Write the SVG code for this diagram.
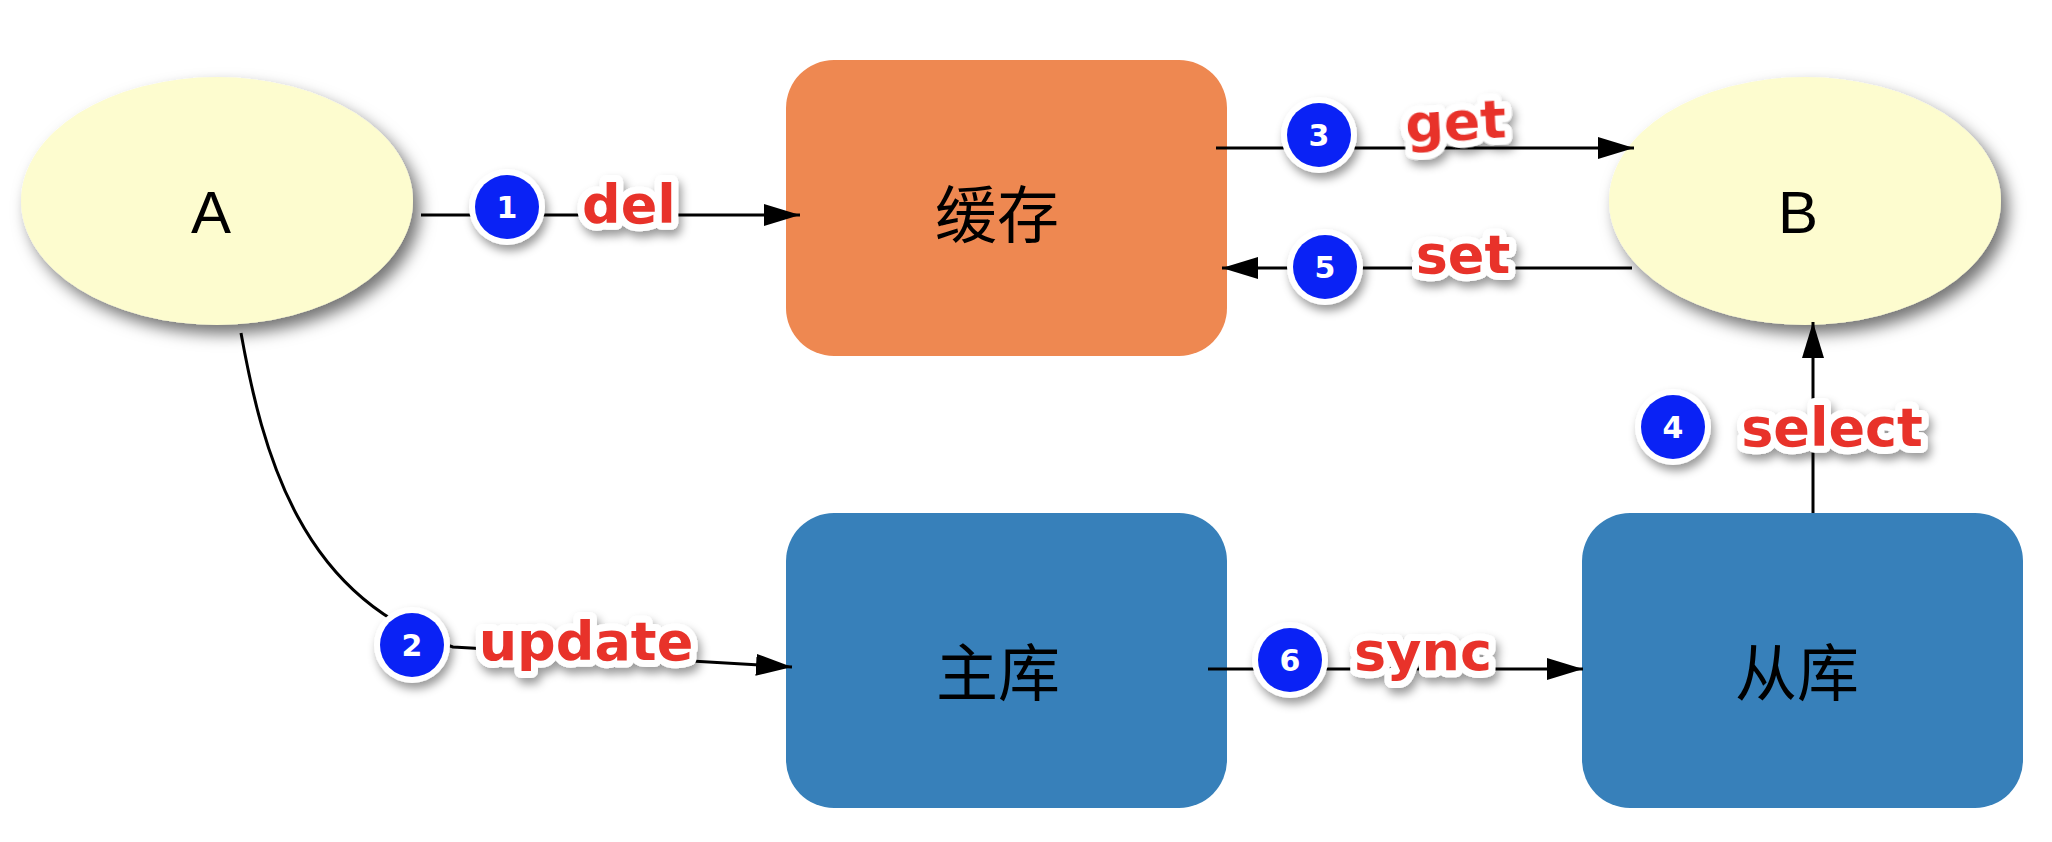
<svg xmlns="http://www.w3.org/2000/svg" width="2052" height="842" viewBox="0 0 2052 842">
<style>
.ell{fill:#FDFCCF;filter:url(#sh)}
.box-o{fill:#EE8851}
.box-b{fill:#3780BA}
.nt{font-family:"Liberation Sans","Noto Sans CJK SC",sans-serif;font-size:60px;fill:#000;text-anchor:middle}
.cjk{font-family:"Noto Sans CJK SC",sans-serif;font-size:62px;fill:#000;text-anchor:middle}
.line{fill:none;stroke:#000;stroke-width:3;marker-end:url(#arr)}
.lbl{font-family:"DejaVu Sans",sans-serif;font-weight:bold;font-size:54px;fill:#E8332A;stroke:#fff;stroke-width:14;stroke-linejoin:round;paint-order:stroke;text-anchor:middle;filter:url(#sh2)}
.bo{fill:#fff;filter:url(#sh2)}
.bi{fill:#0A22F5}
.bn{font-family:"DejaVu Sans",sans-serif;font-weight:bold;font-size:30px;fill:#fff;text-anchor:middle}
</style>
<defs>
<filter id="sh" x="-20%" y="-20%" width="150%" height="150%"><feDropShadow dx="7" dy="9" stdDeviation="8" flood-color="#000" flood-opacity="0.55"/></filter>
<filter id="sh2" x="-30%" y="-30%" width="160%" height="180%"><feDropShadow dx="3" dy="6" stdDeviation="5" flood-color="#000" flood-opacity="0.4"/></filter>
<marker id="arr" markerUnits="userSpaceOnUse" markerWidth="36" markerHeight="22" refX="36" refY="11" orient="auto"><path d="M0,0 L36,11 L0,22 z" fill="#000"/></marker>
</defs>
<rect width="2052" height="842" fill="#fff"/>
<g id="node-A"><ellipse class="ell" cx="217" cy="201" rx="196" ry="124"/><text class="nt" x="211" y="233">A</text></g>
<g id="node-B"><ellipse class="ell" cx="1805" cy="201" rx="196" ry="124"/><text class="nt" x="1798" y="233">B</text></g>
<g id="node-cache"><rect class="box-o" x="786" y="60" width="441" height="296" rx="48"/><text class="cjk" x="997" y="238">缓存</text></g>
<g id="node-master"><rect class="box-b" x="786" y="513" width="441" height="295" rx="48"/><text class="cjk" x="998" y="696">主库</text></g>
<g id="node-slave"><rect class="box-b" x="1582" y="513" width="441" height="295" rx="48"/><text class="cjk" x="1797" y="696">从库</text></g>
<g id="connectors">
<path class="line" d="M421,215 L800,215"/>
<path class="line" d="M241,333 C262,450 300,600 453,647 L792,667"/>
<path class="line" d="M1216,148 L1634,148"/>
<path class="line" d="M1813,513 L1813,322"/>
<path class="line" d="M1632,268 L1222,268"/>
<path class="line" d="M1208,669 L1583,669"/>
</g>
<g id="labels">
<g id="lbl-1"><circle class="bo" cx="507" cy="207" r="38"/><circle class="bi" cx="507" cy="207" r="32"/><text class="bn" x="507" y="218">1</text><text class="lbl" x="629" y="223">del</text></g>
<g id="lbl-2"><circle class="bo" cx="412" cy="645" r="38"/><circle class="bi" cx="412" cy="645" r="32"/><text class="bn" x="412" y="656">2</text><text class="lbl" x="586" y="660">update</text></g>
<g id="lbl-3"><circle class="bo" cx="1319" cy="135" r="38"/><circle class="bi" cx="1319" cy="135" r="32"/><text class="bn" x="1319" y="146">3</text><text class="lbl" x="1456" y="140" transform="rotate(-3 1456 130)">get</text></g>
<g id="lbl-4"><circle class="bo" cx="1673" cy="427" r="38"/><circle class="bi" cx="1673" cy="427" r="32"/><text class="bn" x="1673" y="438">4</text><text class="lbl" x="1832" y="446">select</text></g>
<g id="lbl-5"><circle class="bo" cx="1325" cy="267" r="38"/><circle class="bi" cx="1325" cy="267" r="32"/><text class="bn" x="1325" y="278">5</text><text class="lbl" x="1463" y="273">set</text></g>
<g id="lbl-6"><circle class="bo" cx="1290" cy="660" r="38"/><circle class="bi" cx="1290" cy="660" r="32"/><text class="bn" x="1290" y="671">6</text><text class="lbl" x="1423" y="670">sync</text></g>
</g>
</svg>
